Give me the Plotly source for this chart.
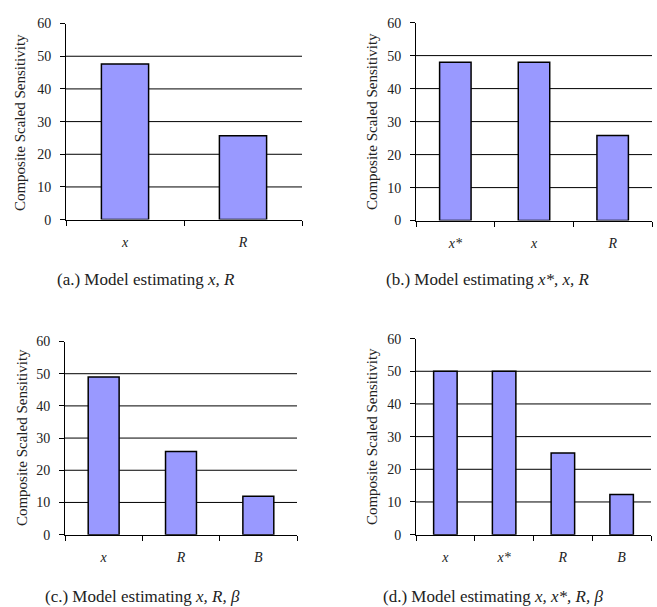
import plotly.graph_objects as go

W, H = 657, 607

# ---- data ----
cats_a = ["x", "R"]
vals_a = [47.6, 25.7]
cats_b = ["x*", "x", "R"]
vals_b = [48.0, 48.0, 25.8]
cats_c = ["x", "R", "B"]
vals_c = [49.0, 25.8, 11.9]
cats_d = ["x", "x*", "R", "B"]
vals_d = [50.0, 50.0, 25.0, 12.3]
y_ticks = [0, 10, 20, 30, 40, 50, 60]
grid_vals = [10, 20, 30, 40, 50]
captions = [
    "(a.) Model estimating <i>x, R</i>",
    "(b.) Model estimating <i>x*, x, R</i>",
    "(c.) Model estimating <i>x, R, β</i>",
    "(d.) Model estimating <i>x, x*, R, β</i>",
]
y_title = "Composite Scaled Sensitivity"

FONT = "'Liberation Serif', 'Times New Roman', Times, serif"
TXT = "#222222"
BAR = "#9999FF"

panels = [
    (cats_a, vals_a, (66, 302), (17, 218), (146, 279), (20, 119)),
    (cats_b, vals_b, (416, 652), (16, 219), (488, 279), (372, 118)),
    (cats_c, vals_c, (65, 297), (343, 541), (142, 604), (22, 442)),
    (cats_d, vals_d, (416, 651), (340, 541), (493, 604), (372, 441)),
]

fig = go.Figure()
layout = dict(
    width=W, height=H,
    margin=dict(l=0, r=0, t=0, b=0),
    paper_bgcolor="white", plot_bgcolor="white",
    showlegend=False,
    font=dict(family=FONT, color=TXT, size=14),
    bargap=0.6,
)
shapes = []
annotations = []

for i, (cats, vals, (x0, x1), (y0, y1), (cx, cy), (tx, ty)) in enumerate(panels):
    n = "" if i == 0 else str(i + 1)
    xa, ya = "x" + n, "y" + n
    fig.add_trace(go.Bar(
        x=cats, y=vals, xaxis=xa, yaxis=ya,
        marker=dict(color=BAR, line=dict(color="black", width=1.5)),
        hoverinfo="skip",
    ))
    layout["xaxis" + n] = dict(
        domain=[x0 / W, x1 / W], anchor=ya,
        type="category",
        tickvals=cats, ticktext=["<i>%s</i>" % c for c in cats],
        tickson="boundaries", ticks="outside", ticklen=5, tickcolor="black",
        showline=True, linecolor="black", linewidth=1,
        showgrid=False, zeroline=False,
        ticklabelstandoff=10,
        tickfont=dict(family=FONT, size=14, color=TXT),
        fixedrange=True,
    )
    layout["yaxis" + n] = dict(
        domain=[1 - y1 / H, 1 - y0 / H], anchor=xa,
        range=[0, 60], tickvals=y_ticks,
        ticks="outside", ticklen=5, tickcolor="black",
        showline=True, linecolor="black", linewidth=1,
        showgrid=False, zeroline=False,
        ticklabelstandoff=6,
        tickfont=dict(family=FONT, size=14, color=TXT),
        fixedrange=True,
    )
    for g in grid_vals:
        shapes.append(dict(
            type="line", xref=xa + " domain", yref=ya,
            x0=0, x1=1, y0=g, y1=g,
            line=dict(color="black", width=1), layer="below",
        ))
    annotations.append(dict(
        text=captions[i], xref="paper", yref="paper",
        x=cx / W, y=1 - cy / H, xanchor="center", yanchor="middle",
        showarrow=False, font=dict(family=FONT, size=17, color=TXT),
    ))
    annotations.append(dict(
        text=y_title, xref="paper", yref="paper",
        x=tx / W, y=1 - ty / H, xanchor="center", yanchor="middle",
        textangle=-90, showarrow=False,
        font=dict(family=FONT, size=15, color=TXT),
    ))

layout["shapes"] = shapes
layout["annotations"] = annotations
fig.update_layout(**layout)
fig.write_html(
    "out.html",
    config={"displayModeBar": False},
    post_script="document.body.style.margin='0px';document.body.style.padding='0px';",
)
